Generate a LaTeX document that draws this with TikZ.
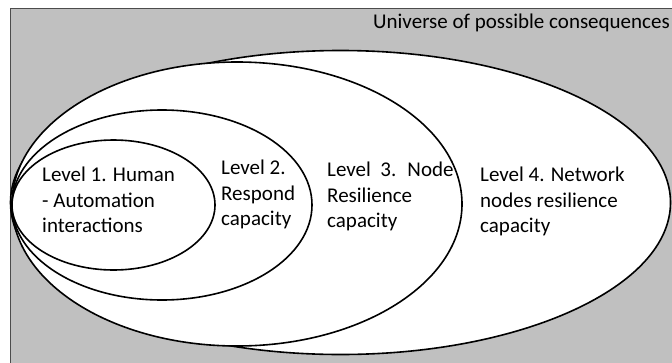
\documentclass[tikz,border=0pt]{standalone}
\usepackage{fontspec}
\setmainfont{Carlito}
\definecolor{universe}{RGB}{192,192,192}
\tikzset{
  ring/.style={draw=black, line width=1.6pt, fill=white},
  leveltext/.style={anchor=north west, inner sep=0pt, align=left,
    font=\fontsize{21}{25.5}\selectfont}
}
\begin{document}
\begin{tikzpicture}[x=1pt,y=-1pt]
  \useasboundingbox (0,0) rectangle (672,362);
  % universe of consequences
  \fill[universe] (10,8) rectangle (680,370);
  \draw[black!70, line width=0.8pt] (10,370) -- (10,8) -- (680,8);
  % levels, outer one first
  \draw[ring] (340.5,202.5) ellipse [x radius=330, y radius=152];
  \draw[ring] (237,204) ellipse [x radius=225, y radius=142];
  \draw[ring] (162,205) ellipse [x radius=150, y radius=95];
  \draw[ring] (113.5,205) ellipse [x radius=101.5, y radius=65];
  % texts
  \node[leveltext] (txt1) at (42,167) {Level 1. Human\\- Automation\\interactions};
  \node[leveltext] (txt2) at (221,160) {Level 2.\\Respond\\capacity};
  \node[leveltext] (txt3) at (327,162) {Level~ 3.~ Node\\Resilience\\capacity};
  \node[leveltext] (txt4) at (480,167) {Level 4. Network\\nodes resilience\\capacity};
  \node[leveltext, anchor=north east] (univ) at (670,14) {Universe of possible consequences};
\end{tikzpicture}
\end{document}
